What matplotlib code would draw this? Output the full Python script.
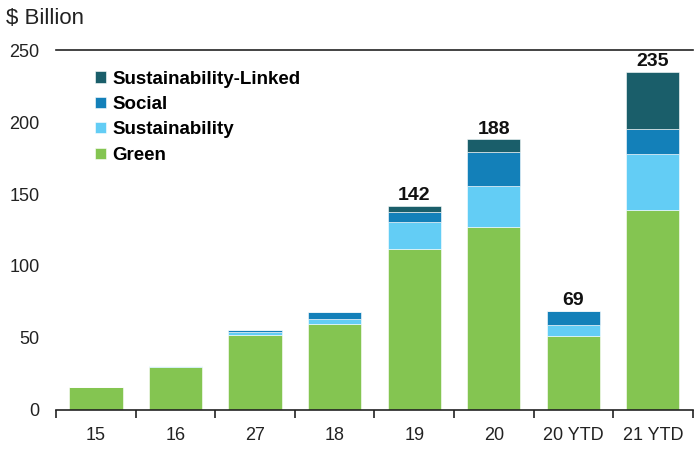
import matplotlib.pyplot as plt
import numpy as np

# Données ($ milliards)
categories = ["15", "16", "27", "18", "19", "20", "20 YTD", "21 YTD"]
green = [16, 29.5, 52, 60, 112, 127, 51.5, 139]
sustainability = [0, 1, 2, 3, 18.5, 28.5, 7.5, 39]
social = [0, 0, 1.5, 5, 7, 24, 10, 17]
sust_linked = [0, 0, 0, 0, 4.5, 8.5, 0, 40]
totals_shown = ["", "", "", "", "142", "188", "69", "235"]

VERT = "#84C551"
BLEU_CLAIR = "#63CDF5"
BLEU = "#1380B9"
TEAL = "#1A5E6A"

plt.rcParams["font.family"] = ["Liberation Sans", "DejaVu Sans"]

fig = plt.figure(figsize=(6.94, 4.55), dpi=100)
ax = fig.add_axes([0.081, 0.099, 0.917, 0.791])

x = np.arange(len(categories))
w = 0.67
bottom = np.zeros(len(categories))
series = [
    (green, VERT, "Green"),
    (sustainability, BLEU_CLAIR, "Sustainability"),
    (social, BLEU, "Social"),
    (sust_linked, TEAL, "Sustainability-Linked"),
]
handles = {}
for vals, col, lab in series:
    vals = np.array(vals, dtype=float)
    b = ax.bar(x, vals, w, bottom=bottom, color=col, label=lab,
               edgecolor="white", linewidth=0.4)
    handles[lab] = b
    bottom += vals

for xi, top, txt in zip(x, bottom, totals_shown):
    if txt:
        ax.text(xi, top + 1.0, txt, ha="center", va="bottom",
                fontsize=14, fontweight="bold", color="#111111")

ax.set_xlim(-0.5, len(categories) - 0.5)
ax.set_ylim(0, 250)
ax.set_yticks([0, 50, 100, 150, 200, 250])
ax.tick_params(axis="y", length=0, labelsize=13, pad=12, colors="#222222")
ax.set_xticks(x)
ax.set_xticklabels(categories)
ax.tick_params(axis="x", which="major", length=0, labelsize=13, pad=12,
               colors="#222222")
ax.set_xticks(np.arange(-0.5, len(categories)), minor=True)
ax.tick_params(axis="x", which="minor", length=6, width=1.2, color="#222222")

ax.spines["left"].set_visible(False)
ax.spines["right"].set_visible(False)
ax.spines["top"].set_linewidth(1.2)
ax.spines["bottom"].set_linewidth(1.2)
ax.spines["top"].set_color("#222222")
ax.spines["bottom"].set_color("#222222")

order = ["Sustainability-Linked", "Social", "Sustainability", "Green"]
leg = ax.legend([handles[k] for k in order], order, loc="upper left",
                bbox_to_anchor=(0.035, 0.99), frameon=False,
                prop={"weight": "bold", "size": 13.5},
                handlelength=0.55, handleheight=0.55, handletextpad=0.35,
                labelspacing=0.45)

fig.text(0.008, 0.96, "$ Billion", fontsize=16, color="#222222",
         ha="left", va="center")

fig.savefig("out.png", dpi=100)
